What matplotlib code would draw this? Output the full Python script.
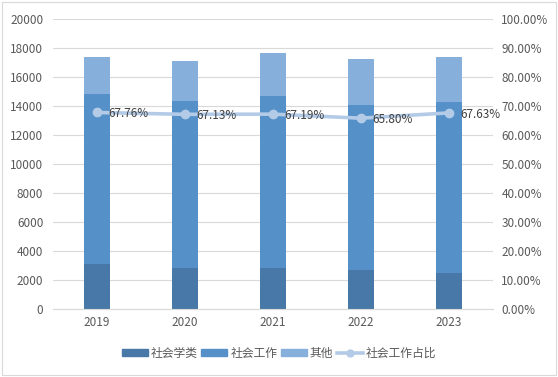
import matplotlib
matplotlib.use("Agg")
import matplotlib.pyplot as plt
from matplotlib.patches import Rectangle
from matplotlib.lines import Line2D

plt.rcParams['font.family'] = ['Noto Sans CJK SC', 'DejaVu Sans']

years = ['2019', '2020', '2021', '2022', '2023']
sociology = [3100, 2850, 2850, 2690, 2480]
social_work = [11756, 11479, 11859, 11351, 11767]
other = [2494, 2771, 2941, 3209, 3153]
ratio = [67.76, 67.13, 67.19, 65.80, 67.63]
ratio_labels = ['67.76%', '67.13%', '67.19%', '65.80%', '67.63%']

c_dark = '#4878a8'
c_mid = '#5591c8'
c_light = '#86afdc'
c_line = '#b4cbe7'
txt = '#595959'

fig = plt.figure(figsize=(5.58, 3.77), dpi=100)
ax = fig.add_axes([53/558, 1-309/377, 440/558, 290/377])
x = list(range(len(years)))
w = 0.285
ax.bar(x, sociology, w, color=c_dark, zorder=2)
ax.bar(x, social_work, w, bottom=sociology, color=c_mid, zorder=2)
bot3 = [a + b for a, b in zip(sociology, social_work)]
ax.bar(x, other, w, bottom=bot3, color=c_light, zorder=2)
ax.set_ylim(0, 20000)
ax.set_xlim(-0.5, 4.5)
ax.set_yticks(range(0, 20001, 2000))
ax.grid(axis='y', color='#d9d9d9', lw=0.8, zorder=0)
ax.set_xticks(x)
ax.set_xticklabels(years)
for s in ['top', 'right', 'left']:
    ax.spines[s].set_visible(False)
ax.spines['bottom'].set_color('#d9d9d9')
ax.tick_params(axis='both', length=0, labelsize=8.5, labelcolor=txt)
ax.tick_params(axis='y', pad=7)
ax.tick_params(axis='x', pad=5)

ax2 = ax.twinx()
ax2.set_ylim(0, 100)
ax2.set_yticks(range(0, 101, 10))
ax2.set_yticklabels([f'{v}.00%' for v in range(0, 101, 10)])
for s in ax2.spines.values():
    s.set_visible(False)
ax2.tick_params(axis='y', length=0, labelsize=8.5, labelcolor=txt, pad=6)
ax2.plot(x, ratio, color=c_line, lw=2.6, marker='o', ms=6, zorder=3)
for xi, r, lab in zip(x, ratio, ratio_labels):
    ax2.annotate(lab, (xi, r), xytext=(8, -1), textcoords='offset points',
                 ha='left', va='center', fontsize=8.5, color='#404040')

handles = [Rectangle((0, 0), 1, 1, color=c_dark),
           Rectangle((0, 0), 1, 1, color=c_mid),
           Rectangle((0, 0), 1, 1, color=c_light),
           Line2D([0], [0], color=c_line, lw=2.6, marker='o', ms=5)]
labels = ['社会学类', '社会工作', '其他', '社会工作占比']
fig.legend(handles, labels, loc='center', bbox_to_anchor=(0.5, 1-353/377),
           ncol=4, frameon=False, fontsize=8.5, handlelength=2.2, handleheight=0.5,
           columnspacing=0.3, handletextpad=0.25, labelcolor=txt)

fig.patches.append(Rectangle((2/558, 2/377), 554/558, 373/377, transform=fig.transFigure,
                             fill=False, edgecolor='#d9d9d9', lw=0.8))
fig.savefig('out.png', dpi=100)
